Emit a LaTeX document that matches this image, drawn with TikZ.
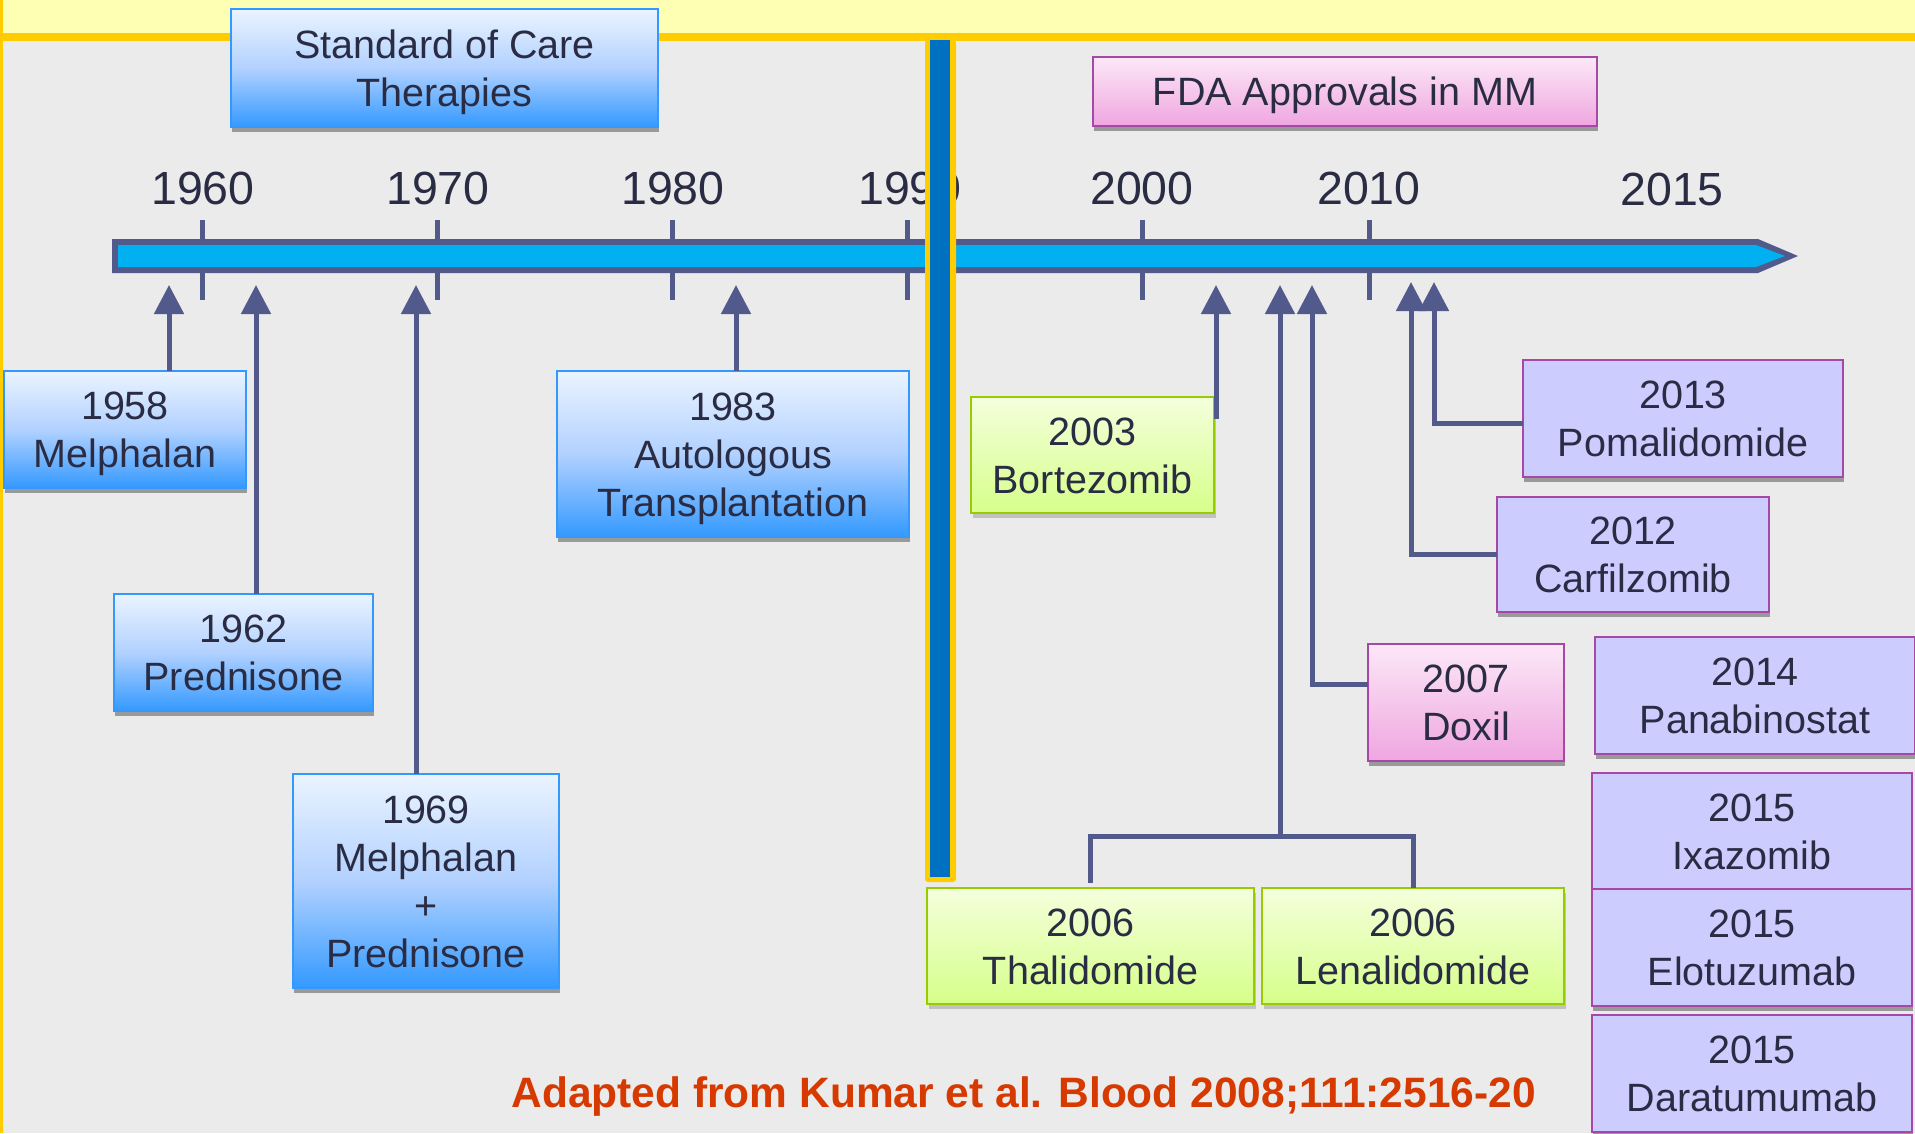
\documentclass[tikz,border=0pt]{standalone}
\usepackage{fontspec}
\setmainfont{Liberation Sans}
\usetikzlibrary{arrows.meta,shadows}
\definecolor{bg}{HTML}{EBEBEB}
\definecolor{band}{HTML}{FFFFB3}
\definecolor{gold}{HTML}{FFCC00}
\definecolor{slate}{HTML}{525A8C}
\definecolor{cyanbar}{HTML}{00B0F0}
\definecolor{barblue}{HTML}{0070C0}
\definecolor{ink}{HTML}{2A2C44}
\definecolor{bluetop}{HTML}{EBF4FF}
\definecolor{bluemid}{HTML}{B2D1FF}
\definecolor{bluebot}{HTML}{3399FF}
\definecolor{greentop}{HTML}{F4FFDC}
\definecolor{greenbot}{HTML}{D6FF8A}
\definecolor{greenline}{HTML}{99CC00}
\definecolor{pinktop}{HTML}{FCE8F7}
\definecolor{pinkbot}{HTML}{EFA6E0}
\definecolor{magline}{HTML}{A649A6}
\definecolor{lav}{HTML}{CCCCFF}
\definecolor{citecol}{HTML}{D63A00}
\newcommand{\capline}[1]{\raisebox{0pt}[28.5pt][0pt]{#1}}
\tikzset{
  boxbase/.style={rectangle, inner sep=0pt, outer sep=0pt, anchor=north west,
    align=center, text=ink, font=\fontsize{39.5}{48}\selectfont},
  hardshadow/.style={drop shadow={shadow xshift=1pt, shadow yshift=-4.5pt, fill=black!40, opacity=1}},
  softshadow/.style={drop shadow={shadow xshift=2pt, shadow yshift=-5pt, fill=black!35, opacity=0.6}},
  bluebox/.style={boxbase, hardshadow, draw=bluebot, line width=1.5pt,
    top color=bluetop, bottom color=bluebot, middle color=bluemid},
  greenbox/.style={boxbase, softshadow, draw=greenline, line width=2pt,
    top color=greentop, bottom color=greenbot},
  pinkbox/.style={boxbase, hardshadow, draw=magline, line width=2pt,
    top color=pinktop, bottom color=pinkbot},
  lavbox/.style={boxbase, hardshadow, draw=magline, line width=2pt, fill=lav},
  year/.style={anchor=base, inner sep=0pt, text=ink, font=\fontsize{46.5}{50}\selectfont},
  conn/.style={draw=slate, line width=5pt},
  arr/.style={conn, -{Triangle[width=29pt,length=29pt]}}
}
\begin{document}
\begin{tikzpicture}[x=1pt,y=-1pt]
\useasboundingbox (0,0) rectangle (1915,1133);
% background and frame
\fill[bg] (0,0) rectangle (1915,1133);
\fill[band] (0,0) rectangle (1915,33);
\fill[gold] (0,33) rectangle (1915,41);
\fill[gold] (0,0) rectangle (3,1133);

% ticks
\foreach \x in {202,437,672,907,1142,1369}
  \draw[slate, line width=5pt] (\x,220) -- (\x,300);

% timeline bar
\fill[slate] (112,239) -- (1758,239) -- (1798,256) -- (1758,273) -- (112,273) -- cycle;
\fill[cyanbar] (118,245) -- (1756,245) -- (1785,256) -- (1756,267) -- (118,267) -- cycle;

% year labels
\node[year] (y1960) at (203,204) {1960};
\node[year] (y1970) at (438,204) {1970};
\node[year] (y1980) at (673,204) {1980};
\node[year] (y1990) at (910,204) {1990};
\node[year] (y2000) at (1142,204) {2000};
\node[year] (y2010) at (1369,204) {2010};
\node[year] (y2015) at (1672,205) {2015};

% headers
\node[bluebox, minimum width=427pt, minimum height=118pt] (soc) at (231,9)
  {\capline{Standard of Care}\\\capline{Therapies}};
\node[pinkbox, minimum width=504pt, minimum height=69pt] (fda) at (1093,57)
  {\capline{FDA Approvals in MM}};

% standard of care boxes
\node[bluebox, minimum width=242pt, minimum height=117pt] (b1958) at (4,371)
  {\capline{1958}\\\capline{Melphalan}};
\node[bluebox, minimum width=259pt, minimum height=117pt] (b1962) at (114,594)
  {\capline{1962}\\\capline{Prednisone}};
\node[bluebox, minimum width=266pt, minimum height=214pt] (b1969) at (293,774)
  {\capline{1969}\\\capline{Melphalan}\\\capline{+}\\\capline{Prednisone}};
\node[bluebox, minimum width=352pt, minimum height=166pt] (b1983) at (557,371)
  {\capline{1983}\\\capline{Autologous}\\\capline{Transplantation}};

% FDA approval boxes
\node[greenbox, minimum width=243pt, minimum height=116pt] (b2003) at (971,397)
  {\capline{2003}\\\capline{Bortezomib}};
\node[greenbox, minimum width=327pt, minimum height=116pt] (b2006t) at (927,888)
  {\capline{2006}\\\capline{Thalidomide}};
\node[greenbox, minimum width=302pt, minimum height=116pt] (b2006l) at (1262,888)
  {\capline{2006}\\\capline{Lenalidomide}};
\node[pinkbox, minimum width=196pt, minimum height=117pt] (b2007) at (1368,644)
  {\capline{2007}\\\capline{Doxil}};
\node[lavbox, minimum width=272pt, minimum height=115pt] (b2012) at (1497,497)
  {\capline{2012}\\\capline{Carfilzomib}};
\node[lavbox, minimum width=320pt, minimum height=117pt] (b2013) at (1523,360)
  {\capline{2013}\\\capline{Pomalidomide}};
\node[lavbox, minimum width=320pt, minimum height=117pt] (b2014) at (1595,637)
  {\capline{2014}\\\capline{Panabinostat}};
\node[lavbox, minimum width=320pt, minimum height=116pt] (b2015i) at (1592,773)
  {\capline{2015}\\\capline{Ixazomib}};
\node[lavbox, minimum width=320pt, minimum height=117pt] (b2015e) at (1592,889)
  {\capline{2015}\\\capline{Elotuzumab}};
\node[lavbox, minimum width=320pt, minimum height=117pt] (b2015d) at (1592,1015)
  {\capline{2015}\\\capline{Daratumumab}};

% arrow tips on the timeline
\coordinate (t1958) at (169,285);
\coordinate (t1962) at (256,285);
\coordinate (t1969) at (416,285);
\coordinate (t1983) at (736,285);
\coordinate (t2003) at (1216,285);
\coordinate (t2006) at (1280,285);
\coordinate (t2007) at (1312,285);
\coordinate (t2012) at (1411,282);
\coordinate (t2013) at (1434,282);
\coordinate (e2003) at (1216,419);
\coordinate (j2006) at (1280,836);

% connectors
\draw[arr] (b1958.north -| t1958) -- (t1958);
\draw[arr] (b1962.north -| t1962) -- (t1962);
\draw[arr] (b1969.north -| t1969) -- (t1969);
\draw[arr] (b1983.north -| t1983) -- (t1983);
\draw[arr] (e2003) -- (t2003);
\draw[arr] (j2006) -- (t2006);
\draw[conn] ([yshift=5pt]b2006t.north) |- (j2006) -| (b2006l.north);
\draw[arr] ([yshift=18.5pt]b2007.west) -| (t2007);
\draw[arr] (b2012.west) -| (t2012);
\draw[arr] ([yshift=-4.5pt]b2013.west) -| (t2013);

% vertical divider
\fill[gold, rounded corners=3pt] (925,40) rectangle (956,882);
\fill[barblue] (930,40) rectangle (950,877);

% citation
\node[anchor=base east, inner sep=0pt, text=citecol, font=\bfseries\fontsize{42.5}{48}\selectfont]
  (cite) at (1536,1107) {Adapted from Kumar et al. Blood 2008;111:2516-20};
\end{tikzpicture}
\end{document}
